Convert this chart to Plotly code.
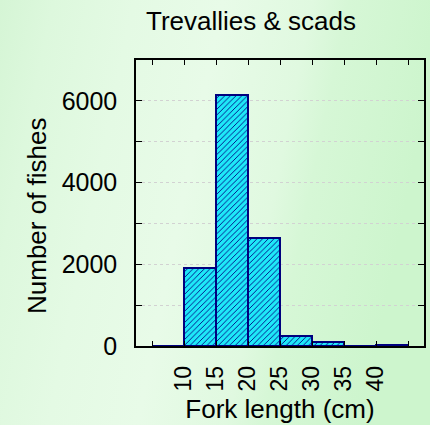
import base64
import plotly.graph_objects as go

# Fork-length histogram: 5 cm bins
bin_starts = [5, 10, 15, 20, 25, 30, 35, 40]
bin_width = 5
fish_counts = [5, 1900, 6150, 2650, 250, 110, 6, 30]

x_tick_vals = [5, 10, 15, 20, 25, 30, 35, 40, 45]
x_tick_text = ["", "10", "15", "20", "25", "30", "35", "40", ""]
y_tick_vals = [0, 1000, 2000, 3000, 4000, 5000, 6000, 7000]
y_tick_text = ["0", "", "2000", "", "4000", "", "6000", ""]

W, H = 430, 425
ML, MR, MT, MB = 136, 6, 60, 79

bin_centers = [s + bin_width / 2 for s in bin_starts]

fig = go.Figure()
fig.add_trace(go.Bar(
    x=bin_centers,
    y=fish_counts,
    width=[bin_width] * len(bin_starts),
    marker=dict(
        color="#1ee8f8",
        line=dict(color="#00007f", width=2),
        pattern=dict(shape="/", fgcolor="#00007f", bgcolor="#1ee8f8",
                     size=4, solidity=0.22, fillmode="replace"),
    ),
    showlegend=False,
))

# soft green backdrop spanning the whole page
svg = (
    "<svg xmlns='http://www.w3.org/2000/svg' width='430' height='425'>"
    "<defs><linearGradient id='g' x1='0' y1='0' x2='1' y2='0.2'>"
    "<stop offset='0' stop-color='#d5f5d5'/>"
    "<stop offset='0.12' stop-color='#ddf8dd'/>"
    "<stop offset='0.3' stop-color='#e4fae4'/>"
    "<stop offset='0.5' stop-color='#e8fbe8'/>"
    "<stop offset='0.7' stop-color='#e0f9e0'/>"
    "<stop offset='0.78' stop-color='#d6f7d6'/>"
    "<stop offset='1' stop-color='#cdf5cd'/>"
    "</linearGradient></defs>"
    "<rect width='430' height='425' fill='url(#g)'/></svg>"
)
bg_src = "data:image/svg+xml;base64," + base64.b64encode(svg.encode()).decode()
pw, ph = W - ML - MR, H - MT - MB
fig.add_layout_image(dict(
    source=bg_src, xref="paper", yref="paper",
    x=-ML / pw, y=1 + MT / ph, sizex=W / pw, sizey=H / ph,
    xanchor="left", yanchor="top", sizing="stretch", layer="below",
))

font_family = "Liberation Sans, Arial, sans-serif"

# vertical axis title, placed a little below the plot's mid-height
fig.add_annotation(
    text="Number of fishes", textangle=-90, showarrow=False,
    xref="paper", yref="paper",
    x=(37 - ML) / pw, y=(H - MB - 216) / ph,
    xanchor="center", yanchor="middle",
    font=dict(size=26),
)

fig.update_layout(
    width=W, height=H,
    margin=dict(l=ML, r=MR, t=MT, b=MB, pad=0, autoexpand=False),
    paper_bgcolor="#e2f9e2",
    plot_bgcolor="rgba(0,0,0,0)",
    font=dict(family=font_family, color="#000000"),
    title=dict(text="Trevallies & scads", font=dict(size=26),
               x=251 / W, xanchor="center", xref="container",
               y=1 - 21 / H, yanchor="middle", yref="container",
               automargin=False),
    bargap=0,
)

fig.update_xaxes(
    range=[2.5, 47.5], automargin=False,
    tickmode="array", tickvals=x_tick_vals, ticktext=x_tick_text,
    tickangle=-90, tickfont=dict(size=23),
    ticks="inside", ticklen=5, tickwidth=1.2, tickcolor="#000000",
    showline=True, linecolor="#000000", linewidth=1.5, mirror="allticks",
    showgrid=False, zeroline=False, ticklabelstandoff=9,
    title=dict(text="Fork length (cm)", font=dict(size=26), standoff=9),
)
fig.update_yaxes(
    range=[0, 7000], automargin=False,
    tickmode="array", tickvals=y_tick_vals, ticktext=y_tick_text,
    tickfont=dict(size=25),
    ticks="inside", ticklen=6, tickwidth=1.2, tickcolor="#000000",
    showline=True, linecolor="#000000", linewidth=1.5, mirror="allticks",
    showgrid=True, gridcolor="#d2d2d2", griddash="dot", gridwidth=1,
    zeroline=False, ticklabelstandoff=12,
)

fig.write_html("out.html")
